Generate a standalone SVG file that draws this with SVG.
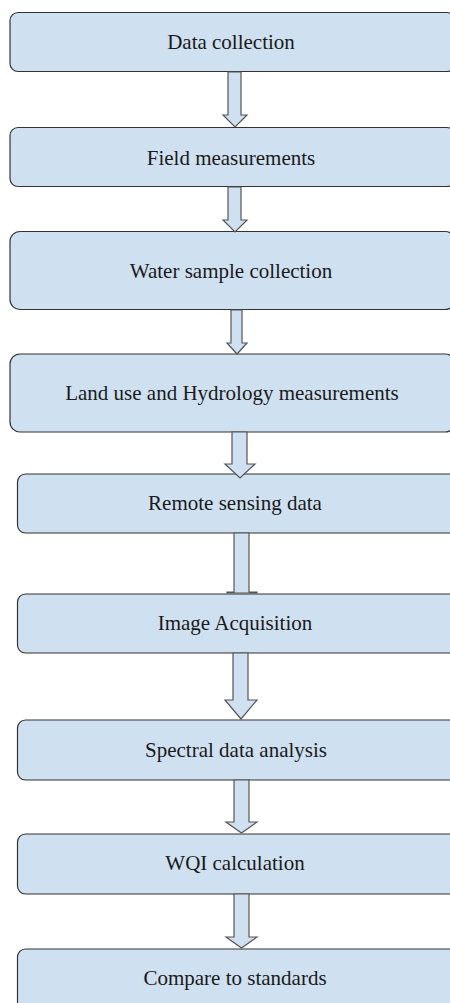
<svg xmlns="http://www.w3.org/2000/svg" width="450" height="1003" viewBox="0 0 450 1003">
<style>
.box{fill:#cfe0f1;stroke:#333;stroke-width:1.2}
.lbl{font-family:'Liberation Serif','Times New Roman','DejaVu Serif',serif;font-size:21px;fill:#1a1a1a;text-anchor:middle}
.arr{fill:#cfe0f1;stroke:#555;stroke-width:1.2;stroke-linejoin:miter}
</style>
<rect width="450" height="1003" fill="#fff"/>
<g id="n1"><rect class="box" x="10" y="12.5" width="445" height="59" rx="8"/><text class="lbl" x="231" y="49">Data collection</text></g>
<g id="n2"><rect class="box" x="10" y="127.5" width="445" height="59" rx="8"/><text class="lbl" x="231" y="165">Field measurements</text></g>
<g id="n3"><rect class="box" x="10" y="231.5" width="445" height="78" rx="10"/><text class="lbl" x="231" y="278">Water sample collection</text></g>
<g id="n4"><rect class="box" x="10" y="354" width="445" height="78" rx="10"/><text class="lbl" x="232" y="400">Land use and Hydrology measurements</text></g>
<g id="n5"><rect class="box" x="17.5" y="474" width="440" height="59" rx="8"/><text class="lbl" x="235" y="510">Remote sensing data</text></g>
<g id="n6"><rect class="box" x="17.5" y="594" width="440" height="59" rx="8"/><text class="lbl" x="235" y="630">Image Acquisition</text></g>
<g id="n7"><rect class="box" x="17.5" y="720" width="440" height="60" rx="8"/><text class="lbl" x="236" y="757">Spectral data analysis</text></g>
<g id="n8"><rect class="box" x="17.5" y="834" width="440" height="60" rx="8"/><text class="lbl" x="235" y="870">WQI calculation</text></g>
<g id="n9"><rect class="box" x="17.5" y="949" width="440" height="70" rx="8"/><text class="lbl" x="235" y="985">Compare to standards</text></g>
<g id="connectors">
<polygon class="arr" points="228,72 241,72 241,115 247,115 235,127 223,115 228,115"/>
<polygon class="arr" points="228,187 241,187 241,220 247,220 235,232 223,220 228,220"/>
<polygon class="arr" points="231,310 242,310 242,343 247,343 237,354 227,343 231,343"/>
<polygon class="arr" points="232,432 247,432 247,464 255,464 240,478 225,464 232,464"/>
<polygon class="arr" points="234,533 249,533 249,592 257,592 257,593 227,593 227,592 234,592"/>
<polygon class="arr" points="233,653 248,653 248,700 257,700 241,719 225,700 233,700"/>
<polygon class="arr" points="234,780 249,780 249,822 257,822 241.5,833 226,822 234,822"/>
<polygon class="arr" points="234,894 249,894 249,937 257,937 241.5,948 226,937 234,937"/>
</g>
</svg>
